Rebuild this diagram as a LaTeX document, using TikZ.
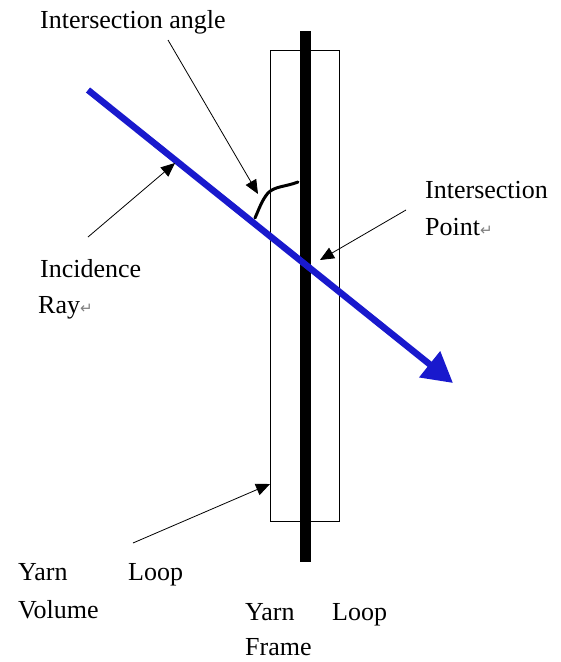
\documentclass[tikz,border=0pt]{standalone}
\usepackage{fontspec}
\setmainfont{Liberation Serif}
\newfontfamily\retfont{DejaVu Sans}
\usetikzlibrary{arrows.meta}
\definecolor{rayblue}{RGB}{25,25,205}
\newcommand\retmark{{\color{gray}\retfont\fontsize{15}{15}\selectfont ↵}}
\begin{document}
\begin{tikzpicture}[x=1pt,y=-1pt,
  lbl/.style={anchor=base west,inner sep=0pt,font=\fontsize{26}{31}\selectfont},
  pointer/.style={line width=0.8pt,-{Triangle[length=14pt,width=12pt]}}]
\useasboundingbox[fill=white] (0,0) rectangle (561,662);
% yarn loop volume (rectangle)
\node[draw,line width=1pt,minimum width=69pt,minimum height=471pt,inner sep=0pt,anchor=north west] (loopbox) at (270,50) {};
% yarn loop frame (thick bar)
\node[fill=black,minimum width=11pt,minimum height=531pt,inner sep=0pt,anchor=north] (framebar) at (305.5,31) {};
% incidence ray
\coordinate (raystart) at (88,90);
\coordinate (raytip) at (453,383);
\draw[rayblue,line width=6.5pt,-{Triangle[length=30pt,width=32pt]}] (raystart) -- (raytip);
% intersection angle mark
\draw[line width=3pt,line join=round,line cap=round] (255,218) .. controls (259,209) and (262,200) .. (268,193) .. controls (275,186) and (285,187) .. (298,182);
% labels
\node[lbl] (angleLbl) at (40,28) {Intersection angle};
\node[lbl] (incLbl) at (40,277) {Incidence};
\node[lbl] (rayLbl) at (38,313) {Ray\retmark};
\node[lbl] (ipLbl) at (425,198) {Intersection};
\node[lbl] (pointLbl) at (425,235) {Point\retmark};
\node[lbl] (yarnA) at (18,580) {Yarn};
\node[lbl] (loopA) at (128,580) {Loop};
\node[lbl] (volLbl) at (18,618) {Volume};
\node[lbl] (yarnB) at (245,620) {Yarn};
\node[lbl] (loopB) at (332,620) {Loop};
\node[lbl] (frameLbl) at (245,655) {Frame};
% pointers
\coordinate (angTail) at (168,40);
\coordinate (angTip) at (258,194);
\coordinate (incTail) at (88,237);
\coordinate (incTip) at (175,163);
\coordinate (ipTail) at (406,210);
\coordinate (ipTip) at (320,260);
\coordinate (volTail) at (133,543);
\coordinate (volTip) at (270,484);
\draw[pointer] (angTail) -- (angTip);
\draw[pointer] (incTail) -- (incTip);
\draw[pointer] (ipTail) -- (ipTip);
\draw[pointer] (volTail) -- (volTip);
\end{tikzpicture}
\end{document}
